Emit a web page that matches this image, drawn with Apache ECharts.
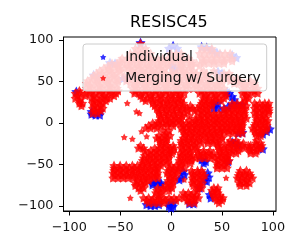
<!DOCTYPE html>
<html><head><meta charset="utf-8">
<style>html,body{margin:0;padding:0;background:#fff}#c{width:300px;height:250px}</style>
<script src="https://cdn.jsdelivr.net/npm/echarts@6/dist/echarts.min.js"></script>
</head><body><div id="c"></div>
<script>
const title = "RESISC45";
const seriesNames = ["Individual", "Merging w/ Surgery"];
const xTicks = [-100, -50, 0, 50, 100];
const yTicks = [-100, -50, 0, 50, 100];
const individualPoints = [[-30,97],[2,93],[-2,90],[6,90],[30,92],[35,91],[40,88],[45,85],[60,82],[64,79],[-60,73],[-55,72],[-76,58],[-72,56],[-47,54],[-43,55],[1,69],[4,66],[46,62],[50,60],[57,36],[60,32],[62,28],[55,38],[42,24],[46,24],[42,18],[46,18],[56,20],[60,22],[65,22],[70,22],[52,17],[-78,11],[-74,10],[-70,10],[-74,13],[-78,14],[-70,14],[-93,38],[66,-12],[70,-11],[94,-10],[97,-7],[90,-13],[60,-23],[63,-24],[65,-26],[90,-31],[30,-44],[34,-46],[32,-48],[56,-46],[12,-58],[13,-62],[10,-66],[8,-68],[36,-60],[37,-65],[35,-70],[33,-68],[-18,-72],[-14,-72],[-10,-72],[-14,-70],[-10,-74],[-18,-74],[38,-86],[39,-90],[-24,-98],[-20,-99],[-16,-99],[-12,-98],[-20,-96],[-2,-96],[2,-96],[-2,-100],[2,-100],[0,-102],[18,-97],[22,-97],[28,-78]];
const mergingSingles = [[-43,24],[-34,14],[-31,12],[-46,-17],[-38,-19],[-29,-10],[-24,-16],[54,-66],[-40,-90],[13,-68]];
const mergingRows = [
[96,[-30]],
[90,[-35,-30,-25,30,35,40]],
[84,[-40,-35,-30,-25,-20,0,5,10,28,33,38,43,48,53,58]],
[78,[-48,-43,-38,-33,-28,-23,-18,-13,-8,-3,2,7,12,17,30,35,40,45,50,55,60]],
[75,[-50,-40,-30,-20,-10,0,10,20,32,42,52,60]],
[72,[-58,-53,-48,-43,-38,-33,-28,-23,-18,-13,-8,-3,5,10,15,20,25,32,37,42,47,52]],
[69,[-62,-52,-42,-32,-22,-12,-2,10,20,28]],
[66,[-66,-61,-56,-51,-46,-41,-36,-31,-26,-21,-16,-11,-6,8,13,18]],
[63,[-70,-60,-50,-38,-28,-18,-8,2,12,22,32,42]],
[60,[-73,-68,-63,-58,-53,-40,-35,-30,-25,-20,-15,-10,-5,0,5,10,15,20,25,30,35,52,57]],
[57,[-76,-66,-56,-46,-35,-25,-15,-5,5,15,25,35,45,55]],
[54,[-78,-73,-68,-63,-58,-53,-42,-37,-32,-27,-22,-17,-12,-7,-2,3,8,13,18,23,28,33,38,50,55,60,65]],
[51,[-82,-72,-62,-52,-44,-32,-22,-12,-2,8,18,28,38,48,58,68,78]],
[48,[-83,-78,-73,-68,-63,-58,-53,-40,-35,-30,-25,-20,-15,-10,-5,0,5,10,15,20,25,30,35,40,45,50,62,67,72,77,82]],
[45,[-80,-70,-60,-35,-25,-15,-5,5,15,25,35,45,72,82]],
[42,[-83,-78,-73,-68,-63,-58,-53,-38,-33,-28,-23,-18,-13,-8,-3,2,7,12,17,22,27,32,37,42,47,52,70,75,80,85]],
[39,[-90,-80,-70,-60,-52,-35,-25,-15,-5,5,30,40,50,72,82]],
[36,[-94,-89,-84,-79,-74,-69,-64,-59,-54,-36,-31,-26,-21,-16,-11,-6,-1,4,9,13,28,33,38,43,48,53,70,75,80,85]],
[33,[-92,-84,-76,-66,-56,-30,-20,-10,0,8,34,44,54,74]],
[30,[-94,-89,-78,-73,-68,-63,-60,-28,-23,-18,-13,-8,-3,2,7,11,32,37,42,47,52,72,76]],
[27,[-90,-76,-70,-64,-25,-18,-11,-4,3,9,31,37,43,49,73]],
[24,[-90,-87,-77,-72,-67,-18,-13,-8,-3,2,7,12,30,35,40,60,65,70,82,87,92,96]],
[21,[-88,-75,-69,-16,-9,-2,5,12,19,28,34,40,62,68,74,84,90,95]],
[18,[-77,-72,-67,-14,-9,-4,1,6,11,16,21,26,31,36,52,57,62,67,72,82,87,92,96]],
[15,[-75,-69,-12,-5,2,9,16,23,30,36,54,60,66,72,84,90,96]],
[12,[-77,-72,-12,-7,-2,3,8,13,27,32,37,42,47,52,57,62,67,72,82,87,92,96]],
[9,[-10,-3,4,11,18,30,36,42,48,54,60,66,72,84,90]],
[6,[-10,-5,0,5,10,24,28,33,38,44,49,54,59,64,69,74,84,89,93]],
[3,[-12,-5,2,8,18,24,30,36,42,46,52,58,64,70,84,90,95]],
[0,[-18,-13,-8,-3,0,5,10,15,20,25,30,35,40,45,50,55,60,65,70,83,88,93]],
[-3,[-22,-16,-10,-4,2,12,18,24,30,36,42,48,54,60,66,70,82,88,94]],
[-6,[-25,-20,-14,10,15,20,25,30,35,40,45,50,55,60,65,69,80,85,90,94]],
[-9,[-8,-2,12,18,24,30,36,42,48,52,57,63,69,82,88,93]],
[-12,[-5,13,18,23,28,33,38,43,48,56,61,66,70,83,88]],
[-15,[-12,-6,-1,14,20,26,32,38,44,50,84,88]],
[-18,[-14,-9,-4,12,17,22,28,34,39,44,50]],
[-21,[-11,-5,10,16,22,28,36,42,48,58,64,84]],
[-24,[-10,-5,10,15,20,25,30,36,41,46,56,61,66,71,83,88]],
[-27,[-30,-10,-4,2,11,17,23,46,52,58,64,70,76,78,84,89]],
[-30,[-32,-27,-16,-11,-6,-1,3,10,15,20,25,47,52,57,62,67,72,77,81,86,88]],
[-33,[-26,-20,-14,-8,-2,2,12,18,26,32,38,48,54,60,66,78,84]],
[-36,[-22,-17,-12,-7,-2,1,9,14,19,27,32,37,42,49,54,59,64,78,83]],
[-39,[-26,-20,-14,-8,-2,10,16,21,28,34,40,46,50,56]],
[-42,[-27,-22,-17,-12,-7,-2,9,14,19,24,28,33,38,43,49,54,55]],
[-45,[-28,-22,-16,-10,-4,8,14,20,46,52,57]],
[-48,[-28,-23,-18,-13,-8,-3,9,14,19,45,50,55]],
[-51,[-56,-50,-44,-38,-33,-28,-22,-16,-10,0,5,10,46,52]],
[-54,[-56,-51,-46,-41,-36,-31,-26,-21,-16,-13,-2,3,8,13,45,50,55]],
[-57,[-56,-50,-44,-38,-32,-26,-20,-14,-3,2,7,20,26,30,68,74]],
[-60,[-57,-52,-47,-42,-37,-32,-27,-22,-17,-13,-4,1,6,21,26,31,67,72,77]],
[-63,[-55,-49,-43,-37,-31,-25,-19,-14,-2,3,22,28,33,66,72,78]],
[-66,[-57,-52,-47,-42,-37,-32,-27,-22,-17,-13,-1,4,21,26,31,65,70,75,80]],
[-69,[-33,-27,-22,-3,2,22,28,68,74]],
[-72,[-35,-30,-25,-3,2,21,26,31,67,72,77]],
[-75,[-35,-28,-5,0,22,28,68,74]],
[-78,[-32,-27,-13,-8,-3,1,26,30,42,46]],
[-81,[-30,-14,-8,-2,26,40,45]],
[-84,[-15,-10,12,17,22,41,46]],
[-87,[-12,14,20,25,42,48]],
[-90,[-27,-22,-17,-12,-7,-2,3,8,13,18,23,27,43,48,51]],
[-93,[-24,-18,-12,-6,0,5,16,22,45,50]],
[-96,[-22,-17,-12,-7,18,23,47]]
];
const mergingPoints = mergingRows.flatMap(([y, xs]) => xs.map(x => [x, y]));
const font = "DejaVu Sans";
const starPath = "path://M0,-10L3.4,-3.6L9.5,-3.1L5.4,1.8L5.9,8.1L0,5.5L-5.9,8.1L-5.4,1.8L-9.5,-3.1L-3.4,-3.6Z";
const axisCommon = {
  type: "value", scale: false, splitLine: {show: false},
  axisLine: {show: true, onZero: false, lineStyle: {color: "#000", width: 1}},
  axisLabel: {color: "#111", fontFamily: font, fontSize: 12.8, margin: 10},
};
const chart = echarts.init(document.getElementById("c"), null, {renderer: "canvas"});
chart.setOption({
  animation: false,
  backgroundColor: "#fff",
  title: {text: title, left: 130, top: 15,
    textStyle: {fontFamily: font, fontSize: 16, fontWeight: "normal", color: "#000"}, padding: 0},
  grid: {left: 63.5, right: 24, top: 37, bottom: 39, show: true, borderColor: "#000", borderWidth: 1, backgroundColor: "#fff"},
  legend: {
    orient: "vertical", left: 83, top: 44, padding: [6, 6, 6, 17], itemGap: 7,
    backgroundColor: "rgba(255,255,255,0.8)", borderColor: "#ccc", borderWidth: 1, borderRadius: 3,
    itemWidth: 28, itemHeight: 6,
    textStyle: {fontFamily: font, fontSize: 13.9, color: "#111", padding: [0, 0, 0, 3]},
    data: seriesNames
  },
  xAxis: Object.assign({}, axisCommon, {min: -105.6, max: 103,
    axisTick: {show: true, length: 4.5, lineStyle: {color: "#000"}, customValues: xTicks},
    axisLabel: Object.assign({}, axisCommon.axisLabel, {customValues: xTicks, formatter: v => String(v).replace("-", "\u2212")})}),
  yAxis: Object.assign({}, axisCommon, {min: -106, max: 103.6,
    axisTick: {show: true, length: 4.5, lineStyle: {color: "#000"}, customValues: yTicks},
    axisLabel: Object.assign({}, axisCommon.axisLabel, {customValues: yTicks, formatter: v => String(v).replace("-", "\u2212")})}),
  series: [
    {name: seriesNames[0], type: "scatter", symbol: starPath, symbolSize: 10, itemStyle: {color: "#0000ff"}, data: individualPoints, z: 2, silent: true},
    {name: seriesNames[1], type: "scatter", symbol: starPath, symbolSize: 9.5, itemStyle: {color: "#ff0000"}, data: mergingPoints, z: 3, silent: true},
    {name: seriesNames[1], type: "scatter", symbol: starPath, symbolSize: 7, itemStyle: {color: "#ff0000"}, data: mergingSingles, z: 3, silent: true}
  ]
});
</script></body></html>
